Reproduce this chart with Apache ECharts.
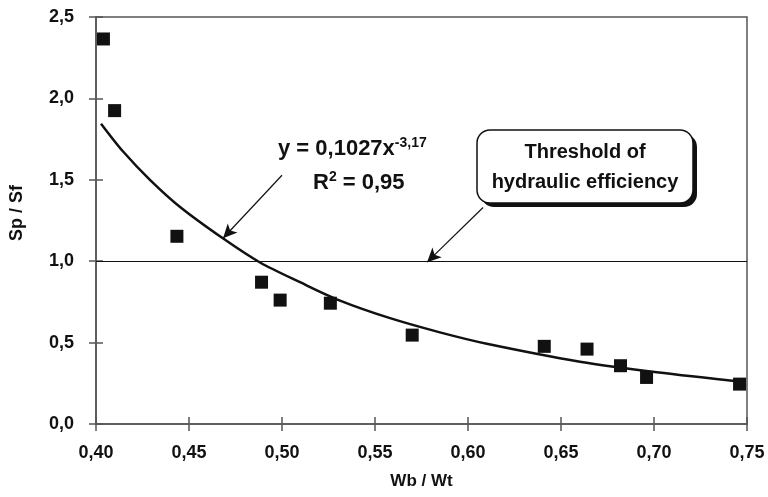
<!DOCTYPE html>
<html>
<head>
    <meta charset="utf-8">
    <title>Sp / Sf vs Wb / Wt</title>
    <script src="https://cdn.jsdelivr.net/npm/echarts@6/dist/echarts.min.js"></script>
    <style>
        html, body { margin: 0; padding: 0; background: #fff; }
        #chart { width: 768px; height: 497px; }
    </style>
</head>
<body>
    <div id="chart"></div>
    <script type="text/javascript">
        // measured points (Wb/Wt, Sp/Sf)
        const wbWt = [0.404, 0.410, 0.4435, 0.489, 0.499, 0.526, 0.570, 0.641, 0.664, 0.682, 0.696, 0.746];
        const spSf = [2.365, 1.925, 1.153, 0.871, 0.761, 0.742, 0.546, 0.477, 0.460, 0.358, 0.286, 0.245];

        // fitted power curve
        const fitX = [0.4027, 0.4147, 0.4290, 0.4452, 0.4684, 0.4882, 0.5097, 0.5312, 0.5581, 0.5849, 0.6101, 0.6602, 0.7015, 0.7489];
        const fitY = [1.845, 1.672, 1.500, 1.333, 1.139, 0.992, 0.871, 0.758, 0.650, 0.563, 0.493, 0.383, 0.318, 0.258];

        const threshold = 1.0;
        // annotation arrows: [start, end] in data units
        const eqArrow = [[0.500, 1.528], [0.4683, 1.141]];
        const boxArrow = [[0.6081, 1.330], [0.578, 0.994]];

        const font = 'Liberation Sans, Arial, sans-serif';
        const comma = v => v.toFixed(1).replace('.', ',');
        const comma2 = v => v.toFixed(2).replace('.', ',');

        let chart = echarts.init(document.getElementById('chart'));

        const tickStyle = { color: '#555', width: 1.5 };
        const baseX = {
            type: 'value', min: 0.40, max: 0.75, interval: 0.05, position: 'bottom',
            splitLine: { show: false }
        };
        const baseY = {
            type: 'value', min: 0, max: 2.5, interval: 0.5, position: 'left',
            splitLine: { show: false }
        };

        let option = {
            animation: false,
            backgroundColor: '#fff',
            grid: {
                left: 96, right: 21, top: 17, bottom: 73,
                show: true, borderColor: '#555', borderWidth: 1.5, backgroundColor: 'transparent'
            },
            xAxis: [
                Object.assign({}, baseX, {
                    name: 'Wb / Wt', nameLocation: 'middle', nameGap: 49,
                    nameTextStyle: { fontFamily: font, fontWeight: 'bold', fontSize: 17, color: '#111' },
                    axisLine: { lineStyle: tickStyle },
                    axisTick: { length: 7, lineStyle: tickStyle },
                    axisLabel: { margin: 20, formatter: comma2, fontFamily: font, fontWeight: 'bold', fontSize: 18, color: '#111' }
                }),
                Object.assign({}, baseX, {
                    axisLine: { show: false },
                    axisTick: { inside: true, length: 7, lineStyle: tickStyle },
                    axisLabel: { show: false }
                })
            ],
            yAxis: [
                Object.assign({}, baseY, {
                    axisLine: { lineStyle: tickStyle },
                    axisTick: { length: 7, lineStyle: tickStyle },
                    axisLabel: { margin: 22, formatter: comma, fontFamily: font, fontWeight: 'bold', fontSize: 18, color: '#111' }
                }),
                Object.assign({}, baseY, {
                    axisLine: { show: false },
                    axisTick: { inside: true, length: 7, lineStyle: tickStyle },
                    axisLabel: { show: false }
                })
            ],
            series: [
                {
                    type: 'line',
                    data: fitX.map((x, i) => [x, fitY[i]]),
                    smooth: 0.3,
                    showSymbol: false,
                    lineStyle: { color: '#111', width: 2.5 },
                    z: 3,
                    markLine: {
                        silent: true,
                        symbol: ['none', 'arrow'],
                        symbolSize: [10, 14],
                        label: { show: false },
                        lineStyle: { color: '#111', width: 1.2, type: 'solid' },
                        data: [
                            [{ coord: eqArrow[0] }, { coord: eqArrow[1] }],
                            [{ coord: boxArrow[0] }, { coord: boxArrow[1] }],
                            [{ coord: [0.40, threshold], symbol: 'none' }, { coord: [0.75, threshold], symbol: 'none' }]
                        ]
                    }
                },
                {
                    type: 'scatter',
                    data: wbWt.map((x, i) => [x, spSf[i]]),
                    symbol: 'rect',
                    symbolSize: 13,
                    itemStyle: { color: '#111', opacity: 1 },
                    z: 4
                }
            ],
            graphic: [
                {
                    type: 'text', x: 17, y: 213, rotation: Math.PI / 2, z: 10,
                    style: {
                        text: 'Sp / Sf', fontFamily: font, fontWeight: 'bold', fontSize: 18,
                        fill: '#111', align: 'center', verticalAlign: 'middle'
                    }
                },
                {
                    type: 'text', left: 278, top: 136, z: 10,
                    style: {
                        text: '{b|y = 0,1027x}{s|-3,17}',
                        rich: {
                            b: { fontFamily: font, fontWeight: 'bold', fontSize: 22, fill: '#111', lineHeight: 26 },
                            s: { fontFamily: font, fontWeight: 'bold', fontSize: 14, fill: '#111', padding: [0, 0, 12, 0], lineHeight: 26 }
                        }
                    }
                },
                {
                    type: 'text', left: 313, top: 170, z: 10,
                    style: {
                        text: '{b|R}{s|2}{b| = 0,95}',
                        rich: {
                            b: { fontFamily: font, fontWeight: 'bold', fontSize: 22, fill: '#111', lineHeight: 26 },
                            s: { fontFamily: font, fontWeight: 'bold', fontSize: 14, fill: '#111', padding: [0, 0, 12, 0], lineHeight: 26 }
                        }
                    }
                },
                {
                    type: 'rect', z: 9,
                    shape: { x: 481, y: 134, width: 216, height: 73, r: 13 },
                    style: { fill: '#111' }
                },
                {
                    type: 'rect', z: 10,
                    shape: { x: 477, y: 130, width: 216, height: 73, r: 13 },
                    style: { fill: '#fff', stroke: '#111', lineWidth: 1.5 }
                },
                {
                    type: 'text', z: 11, x: 585, y: 152,
                    style: {
                        text: 'Threshold of', fontFamily: font, fontWeight: 'bold', fontSize: 20,
                        fill: '#111', align: 'center', verticalAlign: 'middle'
                    }
                },
                {
                    type: 'text', z: 11, x: 585, y: 182,
                    style: {
                        text: 'hydraulic efficiency', fontFamily: font, fontWeight: 'bold', fontSize: 20,
                        fill: '#111', align: 'center', verticalAlign: 'middle'
                    }
                }
            ]
        };

        chart.setOption(option);
    </script>
</body>
</html>
